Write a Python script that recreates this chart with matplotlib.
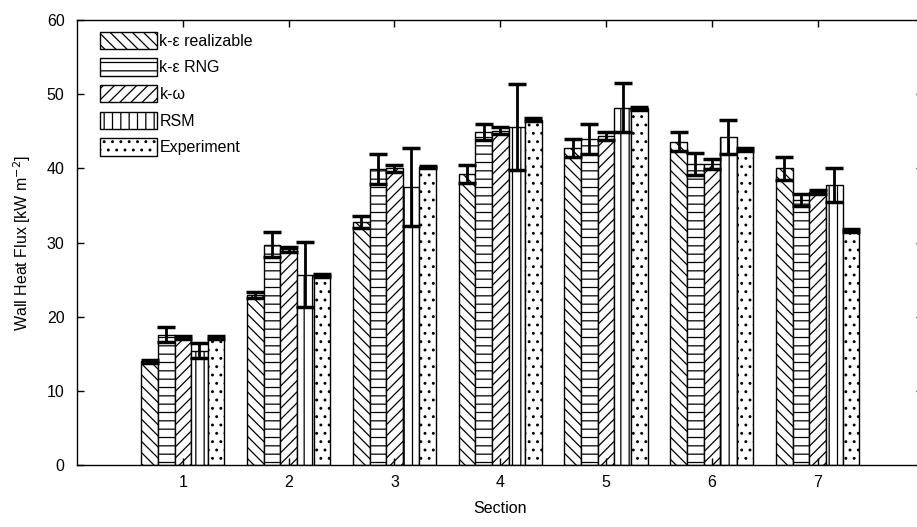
import numpy as np
import matplotlib
matplotlib.use('Agg')
import matplotlib.pyplot as plt

plt.rcParams['font.family'] = ['Liberation Sans', 'DejaVu Sans']
plt.rcParams['hatch.linewidth'] = 0.9

# section numbers
sections = [1, 2, 3, 4, 5, 6, 7]

# wall heat flux [kW m^-2] per model
ke_realizable = [14.0, 22.9, 32.8, 39.3, 42.8, 43.6, 40.0]
ke_rng        = [17.6, 29.7, 39.9, 44.9, 44.0, 40.6, 35.7]
k_omega       = [17.2, 29.1, 40.0, 45.1, 44.4, 40.6, 36.8]
rsm           = [15.4, 25.7, 37.5, 45.6, 48.2, 44.2, 37.8]
experiment    = [17.2, 25.6, 40.2, 46.6, 48.1, 42.5, 31.6]

# error bar half lengths
err_ke_real = [0.2, 0.4, 0.8, 1.2, 1.2, 1.3, 1.5]
err_ke_rng  = [1.0, 1.7, 2.0, 1.1, 2.0, 1.5, 0.8]
err_k_omega = [0.2, 0.3, 0.5, 0.5, 0.5, 0.7, 0.3]
err_rsm     = [1.0, 4.4, 5.3, 5.8, 3.3, 2.3, 2.3]
err_exp     = [0.2, 0.2, 0.2, 0.2, 0.2, 0.2, 0.2]

labels = ['k-ε realizable', 'k-ε RNG', 'k-ω', 'RSM', 'Experiment']
series = [ke_realizable, ke_rng, k_omega, rsm, experiment]
errors = [err_ke_real, err_ke_rng, err_k_omega, err_rsm, err_exp]
hatches = ['\\\\\\', '--', '///', '||', '..']

fig = plt.figure(figsize=(9.17, 5.27), dpi=100)
ax = fig.add_axes([0.084, 0.1176, 0.923, 0.844])

x = np.array(sections, dtype=float)
w = 0.157
for i, (vals, err, lab, h) in enumerate(zip(series, errors, labels, hatches)):
    pos = x + (i - 2) * w
    ax.bar(pos, vals, width=w, color='white', edgecolor='black',
           linewidth=1.0, hatch=h, label=lab)
    ax.errorbar(pos, vals, yerr=err, fmt='none', ecolor='black',
                elinewidth=2.0, capsize=6.5, capthick=2.5)

ax.set_xlim(0, 8)
ax.set_ylim(0, 60)
ax.set_xticks(sections)
ax.set_yticks(range(0, 61, 10))
ax.tick_params(direction='in', length=5, width=1, labelsize=11.5,
               top=True, right=True, colors='black')
ax.tick_params(axis='y', pad=9)
ax.tick_params(axis='x', pad=7)
for s in ax.spines.values():
    s.set_linewidth(1.0)

ax.set_xlabel('Section', fontsize=11.5, labelpad=8)
ax.set_ylabel('Wall Heat Flux [kW m$^{-2}$]', fontsize=11.5, labelpad=10)

ax.legend(loc='upper left', bbox_to_anchor=(0.021, 0.985), frameon=False,
          fontsize=11.5, handlelength=3.6, handleheight=1.3,
          labelspacing=0.58, handletextpad=0.15, borderaxespad=0,
          borderpad=0.3)

fig.savefig('out.png', dpi=100)
